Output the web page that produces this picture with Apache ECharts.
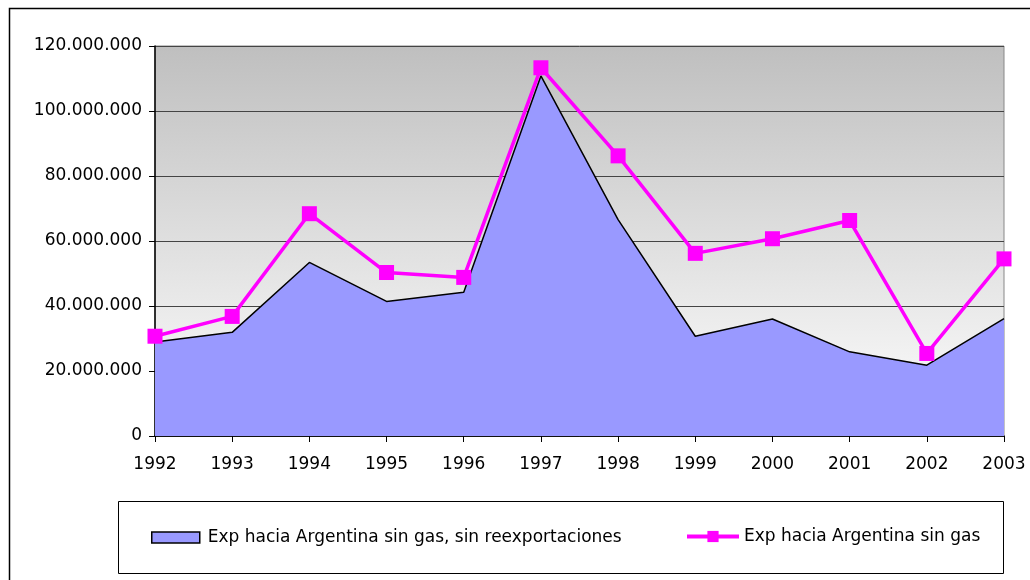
<!DOCTYPE html>
<html>
<head>
<meta charset="utf-8">
<script src="https://cdn.jsdelivr.net/npm/echarts@6/dist/echarts.min.js"></script>
<style>
  html, body { margin: 0; padding: 0; background: #fff; }
  #chart { width: 1030px; height: 580px; }
</style>
</head>
<body>
<div id="chart"></div>
<script>
const years = ['1992', '1993', '1994', '1995', '1996', '1997', '1998', '1999', '2000', '2001', '2002', '2003']
// sin gas, sin reexportaciones (area)
const sinReexp = [28900000, 31900000, 53400000, 41400000, 44200000, 110800000, 66600000, 30700000, 36000000, 25900000, 21800000, 36100000]
// sin gas (linea)
const sinGas = [30700000, 36800000, 68400000, 50300000, 48800000, 113300000, 86200000, 56200000, 60700000, 66300000, 25400000, 54500000]

const nameArea = 'Exp hacia Argentina sin gas, sin reexportaciones'
const nameLine = 'Exp hacia Argentina sin gas'

const font = 'DejaVu Sans, Arial, sans-serif'

function fmt(v) {
    return String(v).replace(/\B(?=(\d{3})+(?!\d))/g, '.')
}

const chart = echarts.init(document.getElementById('chart'))

const option = {
    animation: false,
    textStyle: { fontFamily: font },
    graphic: [
        {
            type: 'rect',
            shape: { x: 9.5, y: 8.5, width: 1040, height: 600 },
            style: { fill: 'none', stroke: '#000', lineWidth: 1.5 },
            silent: true,
            z: -10,
        },
        {
            type: 'rect',
            shape: { x: 118.5, y: 501.5, width: 885, height: 72 },
            style: { fill: '#fff', stroke: '#000', lineWidth: 1 },
            silent: true,
            z: -5,
        },
    ],
    legend: [
        {
            data: [nameArea],
            icon: 'rect',
            left: 146,
            top: 524,
            itemWidth: 48,
            itemHeight: 11,
            itemStyle: { color: '#9999ff', borderColor: '#000', borderWidth: 1.5 },
            textStyle: { fontSize: 17, color: '#000', fontFamily: font, padding: [0, 0, 0, 3] },
        },
        {
            data: [nameLine],
            left: 680,
            top: 523,
            itemWidth: 52,
            itemHeight: 14,
            lineStyle: { width: 4 },
            textStyle: { fontSize: 17, color: '#000', fontFamily: font, padding: [0, 0, 0, 0] },
        },
    ],
    grid: {
        left: 155,
        right: 26,
        top: 46,
        bottom: 144,
        show: true,
        borderColor: '#888',
        borderWidth: 1,
        backgroundColor: {
            type: 'linear',
            x: 0, y: 0, x2: 0, y2: 1,
            colorStops: [
                { offset: 0, color: '#bfbfbf' },
                { offset: 1, color: '#ffffff' },
            ],
        },
    },
    xAxis: {
        type: 'category',
        data: years,
        boundaryGap: false,
        axisLine: { lineStyle: { color: '#000', width: 1.5 } },
        axisTick: { show: true, length: 6, lineStyle: { color: '#000' } },
        axisLabel: { fontSize: 17, color: '#000', margin: 20, fontFamily: font },
        splitLine: { show: false },
    },
    yAxis: {
        type: 'value',
        min: 0,
        max: 120000000,
        interval: 20000000,
        axisLine: { show: true, lineStyle: { color: '#000', width: 1.5 } },
        axisTick: { show: true, length: 6, lineStyle: { color: '#000' } },
        axisLabel: { fontSize: 17, color: '#000', margin: 13, fontFamily: font, formatter: fmt },
        splitLine: { show: true, lineStyle: { color: '#444', width: 1 } },
    },
    series: [
        {
            name: nameArea,
            type: 'line',
            data: sinReexp,
            symbol: 'none',
            color: '#9999ff',
            lineStyle: { color: '#000', width: 1.5 },
            areaStyle: { color: '#9999ff', opacity: 1 },
            itemStyle: { color: '#9999ff', borderColor: '#000', borderWidth: 1.5 },
            z: 2,
        },
        {
            name: nameLine,
            type: 'line',
            data: sinGas,
            symbol: 'rect',
            symbolSize: 15,
            color: '#ff00ff',
            lineStyle: { color: '#ff00ff', width: 3.5 },
            itemStyle: { color: '#ff00ff' },
            z: 3,
        },
    ],
}

chart.setOption(option)
</script>
</body>
</html>
